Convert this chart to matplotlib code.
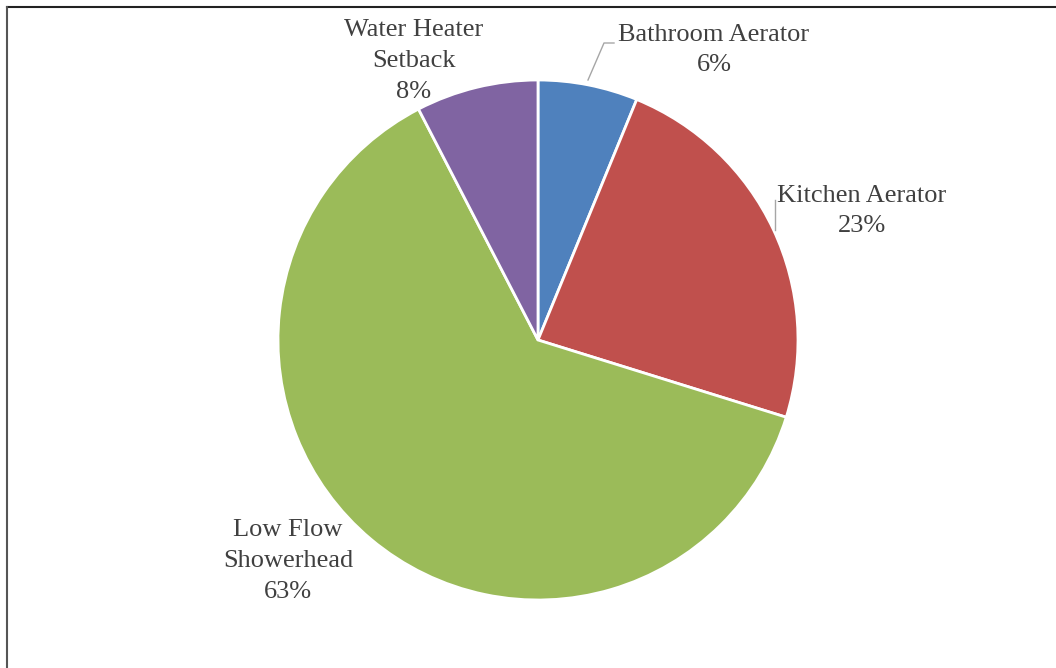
import matplotlib
matplotlib.use("Agg")
import matplotlib.pyplot as plt
from matplotlib.lines import Line2D

categories = ["Bathroom Aerator", "Kitchen Aerator", "Low Flow\nShowerhead", "Water Heater\nSetback"]
values = [6.2, 23.6, 62.6, 7.6]
pct_labels = ["6%", "23%", "63%", "8%"]
colors = ["#4F81BD", "#C0504D", "#9BBB59", "#8064A2"]

W, H = 1056, 668
fig = plt.figure(figsize=(W / 100, H / 100), dpi=100)
ax = fig.add_axes([0, 0, 1, 1])

cx, cy, r = 538, H - 340, 260
ax.pie(values, colors=colors, startangle=90, counterclock=False,
       center=(cx, cy), radius=r, frame=True,
       wedgeprops=dict(edgecolor="white", linewidth=2))
ax.set_xlim(0, W)
ax.set_ylim(0, H)
ax.set_aspect("auto")
ax.axis("off")

font = dict(family="Liberation Serif", fontsize=19, color="#404040",
            ha="center", va="center", linespacing=1.5)

label_pos = [(714, 50), (862, 211), (288, 561), (414, 61)]
for cat, pct, (lx, ly) in zip(categories, pct_labels, label_pos):
    ax.text(lx, H - ly, f"{cat}\n{pct}", **font)

lc = "#A6A6A6"
ax.plot([588, 604, 614], [H - 80, H - 43, H - 43], color=lc, lw=1)
ax.plot([775, 775], [H - 200, H - 230], color=lc, lw=1)

# frame lines (top and left)
fig.add_artist(Line2D([7 / W, 1], [1 - 6.5 / H, 1 - 6.5 / H], transform=fig.transFigure, color="#222222", lw=1.5))
fig.add_artist(Line2D([7 / W, 7 / W], [0, 1 - 6.5 / H], transform=fig.transFigure, color="#555555", lw=1.5))

fig.savefig("out.png", dpi=100, facecolor="white")
